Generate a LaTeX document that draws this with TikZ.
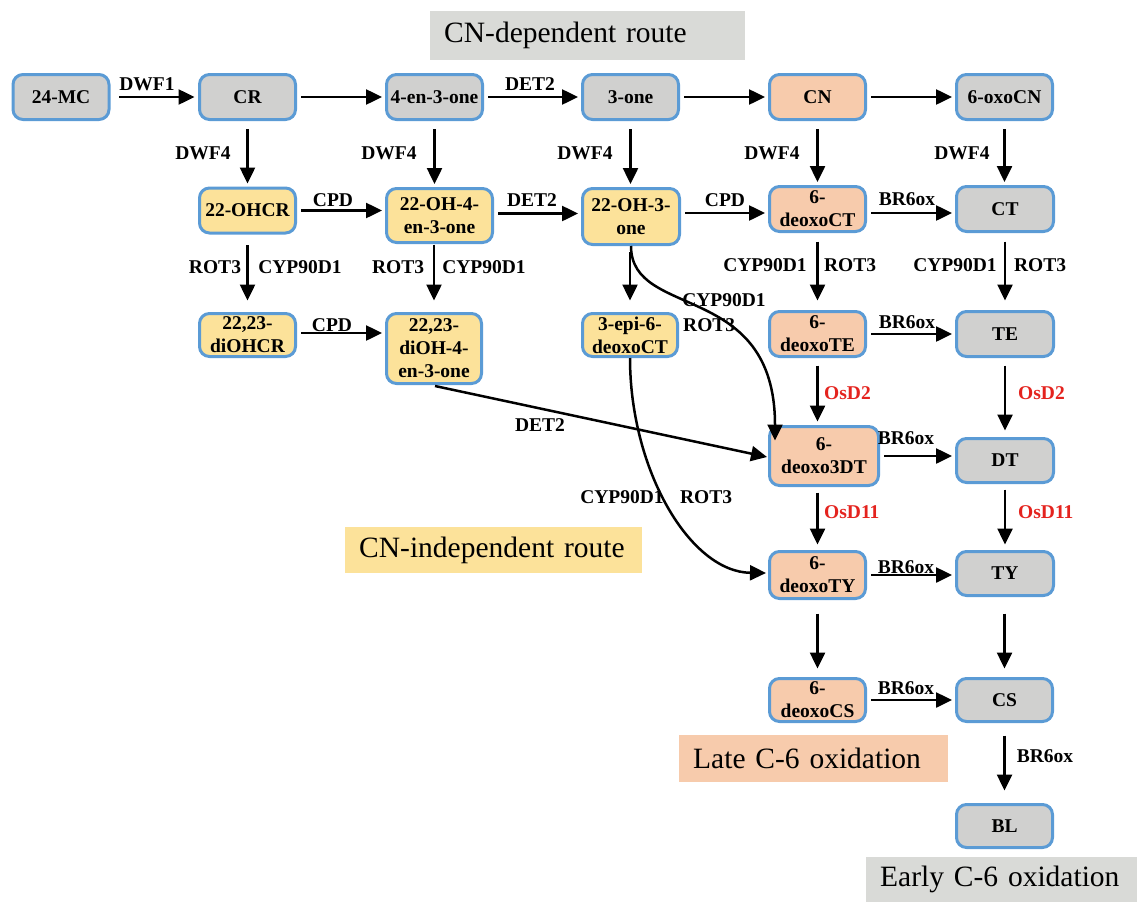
\documentclass[tikz,border=0pt]{standalone}
\usepackage{fontspec}
\setmainfont{Liberation Serif}
\usetikzlibrary{arrows.meta}
\definecolor{bblue}{RGB}{91,155,213}
\definecolor{ngray}{RGB}{208,208,207}
\definecolor{nyel}{RGB}{252,226,154}
\definecolor{npeach}{RGB}{247,203,172}
\definecolor{rgray}{RGB}{217,218,215}
\definecolor{lred}{RGB}{228,35,30}
\tikzset{
  box/.style={draw=bblue, line width=3pt, rounded corners=10pt, align=center,
    font=\bfseries\fontsize{19.5}{23}\selectfont, inner sep=0pt,
    minimum width=96pt, minimum height=45pt},
  gbox/.style={box, fill=ngray},
  ybox/.style={box, fill=nyel},
  pbox/.style={box, fill=npeach},
  arr/.style={-{Triangle[length=16pt,width=15pt]}, line width=2.5pt},
  hsh/.style={shorten <=4pt, shorten >=3pt},
  lbl/.style={font=\bfseries\fontsize{19.5}{23}\selectfont, inner sep=0pt},
  rlbl/.style={lbl, text=lred},
  region/.style={font=\fontsize{29.5}{34}\selectfont, inner xsep=14pt, inner ysep=0pt,
    anchor=north west, align=left}
}
\begin{document}
\begin{tikzpicture}[x=1pt,y=-1pt]
\useasboundingbox (0,0) rectangle (1137,902);

% region labels
\node[region, fill=rgray, minimum height=49pt, text width=287pt] (rdep) at (430,11) {CN-dependent route};
\node[region, fill=nyel, minimum height=46pt, text width=269pt] (rind) at (345,527) {CN-independent route};
\node[region, fill=npeach, minimum height=47pt, text width=241pt] (rlate) at (679,735) {Late C-6 oxidation};
\node[region, fill=rgray, minimum height=45pt, text width=243pt] (rearly) at (866,857) {Early C-6 oxidation};

% row 1
\node[gbox] (mc) at (61,97) {24-MC};
\node[gbox] (cr) at (247.5,97) {CR};
\node[gbox] (en) at (434.5,97) {4-en-3-one};
\node[gbox] (one) at (630.5,97) {3-one};
\node[pbox] (cn) at (817.5,97) {CN};
\node[gbox] (oxocn) at (1004.5,97) {6-oxoCN};
% row 2
\node[ybox] (ohcr) at (247.5,210.5) {22-OHCR};
\node[ybox, minimum width=106pt, minimum height=54pt] (oh4en) at (439.5,215.5) {22-OH-4-\\en-3-one};
\node[ybox, minimum width=97pt, minimum height=56pt] (oh3one) at (631,216.5) {22-OH-3-\\one};
\node[pbox] (dct) at (817.5,209) {6-\\deoxoCT};
\node[gbox, minimum width=97pt] (ct) at (1005,209) {CT};
% row 3
\node[ybox, minimum height=43pt] (diohcr) at (247.5,335) {22,23-\\diOHCR};
\node[ybox, minimum width=95pt, minimum height=70pt] (dioh4en) at (434,348.5) {22,23-\\diOH-4-\\en-3-one};
\node[ybox, minimum width=95pt, minimum height=43pt] (epi) at (630,335) {3-epi-6-\\deoxoCT};
\node[pbox] (dte) at (817.5,334) {6-\\deoxoTE};
\node[gbox, minimum width=97pt] (te) at (1005,334) {TE};
% lower rows
\node[pbox, minimum width=109pt, minimum height=59pt] (d3dt) at (824,456) {6-\\deoxo3DT};
\node[gbox, minimum width=97pt, minimum height=44pt] (dt) at (1005,460.5) {DT};
\node[pbox, minimum height=47pt] (dty) at (817.5,575) {6-\\deoxoTY};
\node[gbox, minimum width=97pt, minimum height=44pt] (ty) at (1005,573.5) {TY};
\node[pbox, minimum height=43pt] (dcs) at (817.5,700) {6-\\deoxoCS};
\node[gbox, minimum height=43pt] (cs) at (1004.5,700) {CS};
\node[gbox, minimum height=43pt] (bl) at (1004.5,826) {BL};

% row 1 horizontal
\draw[arr, shorten <=8.5pt, shorten >=3.5pt] (mc) -- (cr);
\draw[arr, hsh] (cr) -- (en);
\draw[arr, hsh] (en) -- (one);
\draw[arr, hsh] (one) -- (cn);
\draw[arr, hsh] (cn) -- (oxocn);
\node[lbl] (lDWF1) at (147,84) {DWF1};
\node[lbl] (lDET2a) at (530,84) {DET2};

% row1 -> row2
\draw[arr, shorten <=8pt, shorten >=3pt] (cr) -- (ohcr);
\draw[arr, shorten <=8pt, shorten >=3pt] (en.south) -- (en.south |- oh4en.north);
\draw[arr, shorten <=8pt, shorten >=3pt] (one) -- (one |- oh3one.north);
\draw[arr, shorten <=8pt, shorten >=3pt] (cn) -- (dct);
\draw[arr, shorten <=8pt, shorten >=3pt] (oxocn) -- (oxocn |- ct.north);
\node[lbl] (l1) at (203,153) {DWF4};
\node[lbl] (l2) at (389,153) {DWF4};
\node[lbl] (l3) at (585,153) {DWF4};
\node[lbl] (l4) at (772,153) {DWF4};
\node[lbl] (l5) at (962,153) {DWF4};

% row 2 horizontal
\draw[arr, hsh] (ohcr.east) -- (ohcr.east -| oh4en.west);
\draw[arr, hsh] ([yshift=2pt]oh4en.east) -- ([yshift=2pt]oh4en.east -| oh3one.west);
\draw[arr, hsh] ([yshift=3.5pt]oh3one.east) -- ([yshift=3.5pt]oh3one.east -| dct.west);
\draw[arr, hsh] ([yshift=-4pt]dct.east) -- ([yshift=-4pt]dct.east -| ct.west);
\node[lbl] (lCPDa) at (333,200) {CPD};
\node[lbl] (lDET2b) at (532,200) {DET2};
\node[lbl] (lCPDb) at (725,200) {CPD};
\node[lbl] (lBRa) at (907,199) {BR6ox};

% row2 -> row3
\draw[arr, shorten <=10.5pt, shorten >=11.5pt] (ohcr) -- (diohcr);
\draw[arr, shorten <=0.5pt, shorten >=11.5pt] (oh4en.south -| dioh4en.north) -- (dioh4en.north);
\draw[arr, shorten <=5.5pt, shorten >=11.5pt] (oh3one.south -| epi.north) -- (epi.north);
\draw[arr, shorten <=8.5pt, shorten >=9.5pt] (dct) -- (dte);
\draw[arr, shorten <=8.5pt, shorten >=9.5pt] (ct) -- (te);
\node[lbl] (l6) at (215,267) {ROT3};
\node[lbl] (l7) at (300,267) {CYP90D1};
\node[lbl] (l8) at (398,267) {ROT3};
\node[lbl] (l9) at (484,267) {CYP90D1};
\node[lbl] (l10) at (765,265) {CYP90D1};
\node[lbl] (l11) at (850,265) {ROT3};
\node[lbl] (l12) at (955,265) {CYP90D1};
\node[lbl] (l13) at (1040,265) {ROT3};

% curve 22-OH-3-one -> 6-deoxo3DT
\draw[arr, shorten <=0pt] (oh3one.south) .. controls (631,320) and (775,280) .. ([xshift=-49pt,yshift=-15.5pt]d3dt.north);
\node[lbl] (l14) at (724,300) {CYP90D1};
\node[lbl, anchor=west] (l15) at (683,325) {ROT3};

% row 3 horizontal
\draw[arr, hsh] ([yshift=2pt]diohcr.east) -- ([yshift=2pt]diohcr.east -| dioh4en.west);
\draw[arr, hsh] (dte) -- (te);
\node[lbl] (lCPDc) at (332,325) {CPD};
\node[lbl] (lBRb) at (907,322) {BR6ox};

% row3 -> DT row
\draw[arr, shorten <=7.5pt, shorten >=3.5pt] (dte) -- (dte |- d3dt.north);
\draw[arr, shorten <=7.5pt, shorten >=6.5pt] (te) -- (dt);
\node[rlbl, anchor=west] (l16) at (824,393) {OsD2};
\node[rlbl, anchor=west] (l17) at (1018,393) {OsD2};

% DET2 diagonal
\draw[arr] ([xshift=1pt,yshift=-1pt]dioh4en.south) -- ([yshift=-1pt,xshift=-1pt]d3dt.west);
\node[lbl] (lDET2c) at (540,425) {DET2};

\draw[arr, hsh] (d3dt.east) -- (d3dt.east -| dt.west);
\node[lbl] (lBRc) at (906,438) {BR6ox};

\draw[arr, shorten <=5.5pt, shorten >=5.5pt] (d3dt.south -| dty.north) -- (dty.north);
\draw[arr, shorten <=5.5pt, shorten >=5.5pt] (dt) -- (ty);
\node[rlbl, anchor=west] (l18) at (824,512) {OsD11};
\node[rlbl, anchor=west] (l19) at (1018,512) {OsD11};

% curve 3-epi -> 6-deoxoTY
\draw[arr, shorten <=0pt] (epi.south) .. controls (630,470) and (690,572) .. ([xshift=-2pt,yshift=2pt]dty.west);
\node[lbl] (l20) at (622,497) {CYP90D1};
\node[lbl] (l21) at (706,497) {ROT3};

\draw[arr, hsh] (dty) -- (dty -| ty.west);
\node[lbl] (lBRd) at (906,567) {BR6ox};

\draw[arr, shorten <=13.5pt, shorten >=8.5pt] (dty) -- (dcs);
\draw[arr, shorten <=16.5pt, shorten >=8.5pt] (ty.south -| cs.north) -- (cs.north);

\draw[arr, hsh] (dcs) -- (cs);
\node[lbl] (lBRe) at (906,688) {BR6ox};

\draw[arr, shorten <=12.5pt, shorten >=12.5pt] (cs) -- (bl);
\node[lbl] (lBRf) at (1045,756) {BR6ox};
\end{tikzpicture}
\end{document}
